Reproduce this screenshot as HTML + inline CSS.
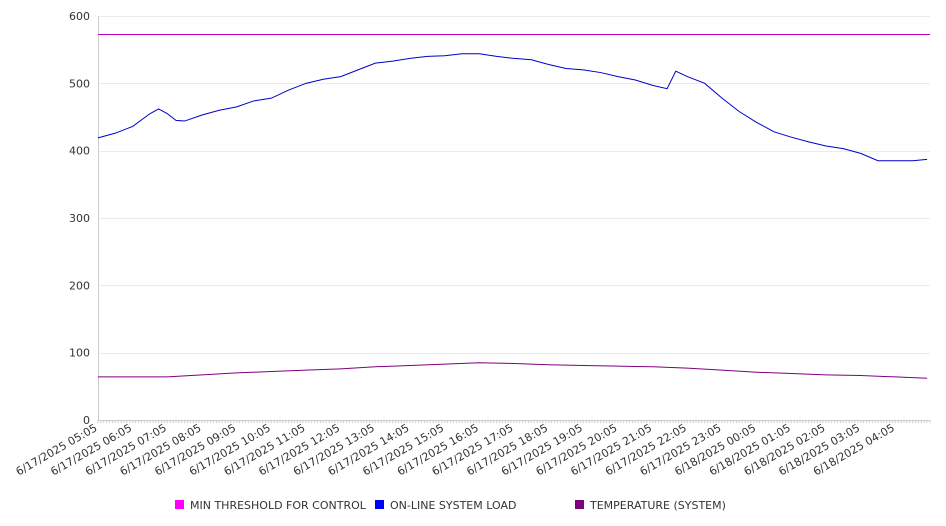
<!DOCTYPE html>
<html><head><meta charset="utf-8"><style>
body{margin:0;background:#fff;}
svg{display:block;font-family:"DejaVu Sans","Liberation Sans",sans-serif;}
</style></head><body>
<svg id="c" width="946" height="526"></svg>
<script>
const yTicks=[0,100,200,300,400,500,600];
const threshold=573;
const loadTimes=[0,30,60,90,105,120,135,150,180,210,240,270,300,330,360,390,420,450,480,510,540,570,600,630,660,690,720,750,780,810,840,870,900,930,960,985,1000,1020,1050,1080,1110,1140,1170,1200,1230,1260,1290,1320,1350,1380,1410,1435];
const loadVals=[419,426,436,455,462,455,445,444,453,460,465,474,478,490,500,506,510,520,530,533,537,540,541,544,544,540,537,535,528,522,520,516,510,505,497,492,518,510,500,478,458,442,428,420,413,407,403,396,385,385,385,387];
const tempTimes=[0,60,120,180,240,300,360,420,480,540,600,660,720,780,840,900,960,1020,1080,1140,1200,1260,1320,1380,1435];
const tempVals=[64,64,64,67,70,72,74,76,79,81,83,85,84,82,81,80,79,77,74,71,69,67,66,64,62];
const xLabels=["6/17/2025 05:05","6/17/2025 06:05","6/17/2025 07:05","6/17/2025 08:05","6/17/2025 09:05","6/17/2025 10:05","6/17/2025 11:05","6/17/2025 12:05","6/17/2025 13:05","6/17/2025 14:05","6/17/2025 15:05","6/17/2025 16:05","6/17/2025 17:05","6/17/2025 18:05","6/17/2025 19:05","6/17/2025 20:05","6/17/2025 21:05","6/17/2025 22:05","6/17/2025 23:05","6/18/2025 00:05","6/18/2025 01:05","6/18/2025 02:05","6/18/2025 03:05","6/18/2025 04:05"];
const X0=98,X1=930,Y0=420,Y1=16,TMAX=1440;
const sx=t=>X0+(X1-X0)*t/TMAX;
const sy=v=>Y0-(Y0-Y1)*v/600;
const svg=document.getElementById('c');
const NS='http://www.w3.org/2000/svg';
function mk(tag,attrs,parent){const e=document.createElementNS(NS,tag);for(const k in attrs)e.setAttribute(k,attrs[k]);(parent||svg).appendChild(e);return e;}
yTicks.forEach(v=>{
  const y=Math.round(sy(v))+0.5;
  const g=mk('line',{x1:X0,x2:X1,y1:y,y2:y,stroke:v===0?'#ccc':'#ebebeb'});
  
  
  const t=mk('text',{x:X0-8,y:sy(v)+4,'text-anchor':'end','font-size':11,fill:'#333'});
  t.textContent=v;
  
  
});
const ax=mk('line',{x1:X0+0.5,x2:X0+0.5,y1:Y1,y2:Y0,stroke:'#ccc'});


for(let t=0;t<=TMAX;t+=5){mk('line',{x1:sx(t),x2:sx(t),y1:Y0,y2:Y0+3,stroke:'#ccc'});}
xLabels.forEach((l,i)=>{
  const x=sx(i*60);
  const t=mk('text',{x:x,y:Y0+10,'text-anchor':'end','font-size':11,fill:'#333',transform:`rotate(-30 ${x} ${Y0+10})`});
  t.textContent=l;
  
  
});
const thy=Math.round(sy(threshold))+0.5;
const th=mk('line',{x1:X0,x2:X1,y1:thy,y2:thy,stroke:'#c000c0','stroke-width':1});


function line(ts,vs,color,name){
  const p=mk('polyline',{points:ts.map((t,i)=>sx(t)+','+sy(vs[i])).join(' '),fill:'none',stroke:color,'stroke-width':1});
  
  
}
line(loadTimes,loadVals,'#0000cc','online-system-load-line');
line(tempTimes,tempVals,'#800080','temperature-line');
const leg=[[175,'#ff00ff','MIN THRESHOLD FOR CONTROL'],[375,'#0000ff','ON-LINE SYSTEM LOAD'],[575,'#800080','TEMPERATURE (SYSTEM)']];
leg.forEach(([x,c,l])=>{
  const g=mk('g',{});
  
  
  mk('rect',{x:x,y:500,width:9,height:9,fill:c},g);
  const t=mk('text',{x:x+15,y:509,'font-size':11,fill:'#333'},g);
  t.textContent=l;
});
</script>
</body></html>
